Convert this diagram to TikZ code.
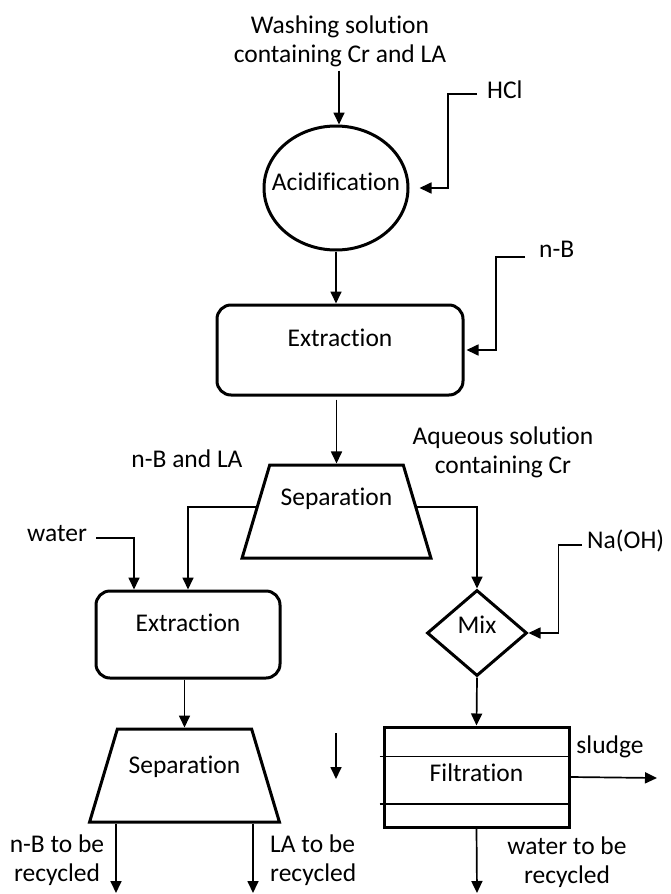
\documentclass[tikz,border=0pt]{standalone}
\usepackage{fontspec}
\setmainfont{Carlito}[Ligatures={NoCommon}]
\usetikzlibrary{shapes.geometric,arrows.meta,calc}
\begin{document}
\begin{tikzpicture}[x=1pt,y=-1pt,
  txt/.style={font=\fontsize{25.5}{29}\selectfont, inner sep=1pt, align=center},
  shp/.style={draw, line width=3pt, inner sep=0pt},
  conn/.style={line width=1.7pt, -{Triangle[length=12pt,width=11pt]}},
  plainline/.style={line width=1.6pt},
  rbox/.style={shp, rectangle, rounded corners=14pt},
  trap/.style={shp, trapezium, trapezium left angle=76, trapezium right angle=76, trapezium stretches=true, inner sep=2pt}
]
\useasboundingbox (0,0) rectangle (671,894);
\fill[white] (0,0) rectangle (671,894);

% texts
\node[txt] (wash) at (340,41) {Washing solution\\containing Cr and LA};
\node[txt, anchor=west] (hcl) at (486,90) {HCl};
\node[txt, anchor=west] (nb) at (538,249) {n-B};
\node[txt] (nbla) at (187,459) {n-B and LA};
\node[txt] (aq) at (503,452) {Aqueous solution\\containing Cr};
\node[txt] (water) at (57,534) {water};
\node[txt, anchor=west] (naoh) at (586,541) {Na(OH)};
\node[txt] (sludge) at (610,747) {sludge};
\node[txt] (wrec) at (567,862) {water to be\\recycled};
\node[txt] (nbrec) at (57,860) {n-B to be\\recycled};
\node[txt, align=left, anchor=west] (larec) at (269,860) {LA to be\\recycled};

% shapes
\node[shp, ellipse, minimum width=144pt, minimum height=124pt,
  label={[txt,yshift=6pt]center:Acidification}] (acid) at (336,188) {};
\node[rbox, minimum width=246pt, minimum height=90pt,
  label={[txt,yshift=12pt]center:Extraction}] (ext1) at (340,350) {};
\node[trap, minimum width=189pt, minimum height=93pt,
  label={[txt,yshift=12.5pt]center:Separation}] (sep1) at (336.5,511.5) {\phantom{M}};
\node[rbox, minimum width=184pt, minimum height=87pt,
  label={[txt,yshift=11.5pt]center:Extraction}] (ext2) at (188,634.5) {};
\node[shp, diamond, minimum width=100pt, minimum height=86pt,
  label={[txt,yshift=8pt]center:Mix}] (mix) at (477,633) {};
\node[shp, rectangle, minimum width=185pt, minimum height=100pt,
  label={[txt,yshift=4pt]center:Filtration}] (filt) at (476.5,777) {};
\node[trap, minimum width=190pt, minimum height=93pt,
  label={[txt,yshift=8.5pt]center:Separation}] (sep2) at (184.5,775.5) {\phantom{M}};

% free ends
\coordinate (sludgeEnd) at (657,778);
\coordinate (wrecEnd) at (477,893);
\coordinate (nbEnd) at (116,893);
\coordinate (laEnd) at (253,893);
\coordinate (loneA) at (336,733);
\coordinate (loneB) at (336,779);

% filtration inner lines
\draw[plainline] ([xshift=-3pt]$(filt.north west)!0.3!(filt.south west)$) -- ($(filt.north east)!0.3!(filt.south east)$);
\draw[plainline] ([xshift=-3pt]$(filt.north west)!0.76!(filt.south west)$) -- ($(filt.north east)!0.76!(filt.south east)$);

% connectors
\draw[conn, shorten <=3pt] (wash.south -| 339,0) -- (acid.north -| 339,0);
\draw[conn, shorten >=10pt] ([xshift=-9pt,yshift=-4pt]hcl.west) -| ([xshift=38.5pt]acid.east) -- (acid.east);
\draw[conn] (acid.south) -- (acid.south |- ext1.north);
\draw[conn, shorten >=2pt] ([xshift=-13pt,yshift=-8pt]nb.west) -| ([xshift=31.5pt]ext1.east) -- (ext1.east);
\draw[conn, shorten <=3pt] (ext1.south -| sep1.north) -- (sep1.north);
\draw[conn] (sep1.177) -| (ext2.north);
\draw[conn] (sep1.3) -| (mix.north);
\draw[conn] ([xshift=8pt,yshift=-4pt]water.east) -| ([xshift=-54pt]ext2.north);
\draw[conn] ([xshift=-4pt,yshift=-4pt]naoh.west) -| ([xshift=30pt]mix.east) -- (mix.east);
\draw[conn] (mix.south) -- (filt.north);
\draw[conn] (filt.east) -- (sludgeEnd);
\draw[conn] (filt.south) -- (wrecEnd);
\draw[conn] (ext2.south -| sep2.north) -- (sep2.north);
\draw[conn] (sep2.south -| nbEnd) -- (nbEnd);
\draw[conn] (sep2.south -| laEnd) -- (laEnd);
\draw[conn] (loneA) -- (loneB);
\end{tikzpicture}
\end{document}
